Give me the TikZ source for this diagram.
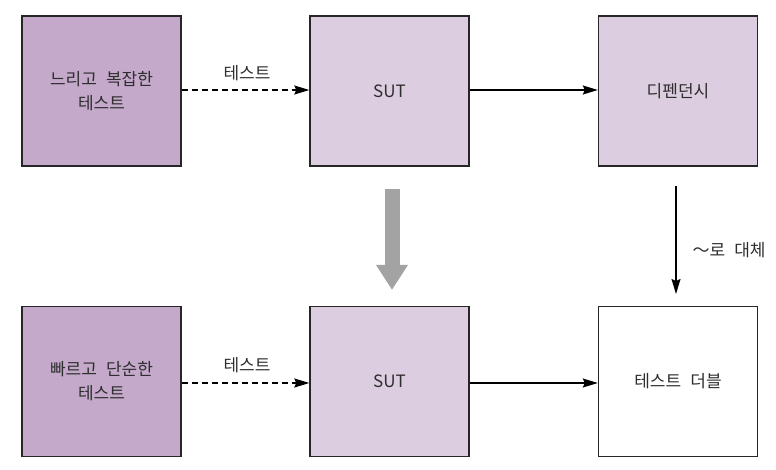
\documentclass[tikz,border=0pt]{standalone}
\usepackage{fontspec}
\setmainfont{Noto Sans CJK KR}[WordSpace=2.4]
\usepackage{tikz}
\usetikzlibrary{arrows.meta}

\definecolor{slowfill}{HTML}{C4A9CB}
\definecolor{sutfill}{HTML}{DDCDE0}
\definecolor{inktext}{HTML}{2E2E2E}
\definecolor{bigarrow}{HTML}{A3A3A3}

\begin{document}
\begin{tikzpicture}[x=1pt,y=-1pt,
		box/.style={draw=black!85, line width=1.4pt, minimum width=159pt, minimum height=150pt, inner sep=0pt, align=center, text=inktext, font=\fontsize{17}{24}\selectfont},
		testbox/.style={box, fill=slowfill},
		sutbox/.style={box, fill=sutfill},
		arr/.style={line width=1.3pt, -{Stealth[length=15pt,width=9pt,inset=2pt]}},
		lbl/.style={text=inktext, font=\fontsize{17}{24}\selectfont}]
	\useasboundingbox (0,0) rectangle (776,470);

	% top row
	\node[testbox] (slow) at (101.5,91) {느리고 복잡한\\테스트};
	\node[sutbox] (sut1) at (389.5,91) {SUT};
	\node[sutbox] (dep) at (678,91) {디펜던시};

	% bottom row
	\node[testbox] (fast) at (101.5,381.5) {빠르고 단순한\\테스트};
	\node[sutbox] (sut2) at (389.5,381.5) {SUT};
	\node[box, fill=white] (dbl) at (678,381.5) {테스트 더블};

	\draw[arr, dashed, dash pattern=on 6pt off 4pt] (slow.east |- 0,90) -- (sut1.west |- 0,90);
	\draw[arr] (sut1.east |- 0,90) -- (dep.west |- 0,90);
	\node[lbl] (t1) at (247,73) {테스트};

	\draw[arr, dashed, dash pattern=on 6pt off 4pt] (fast.east |- 0,383) -- (sut2.west |- 0,383);
	\draw[arr] (sut2.east |- 0,383) -- (dbl.west |- 0,383);
	\node[lbl] (t2) at (247,365) {테스트};

	% replace
	\coordinate (g1) at (392,189);
	\coordinate (g2) at (392,290);
	\draw[bigarrow, line width=15pt, -{Triangle[length=25pt,width=30pt]}] (g1) -- (g2);

	\coordinate (r1) at (676,186);
	\coordinate (r2) at (676,294);
	\draw[arr] (r1) -- (r2);
	\node[lbl, anchor=west] (rl) at (689,250) {～로 대체};
\end{tikzpicture}
\end{document}
